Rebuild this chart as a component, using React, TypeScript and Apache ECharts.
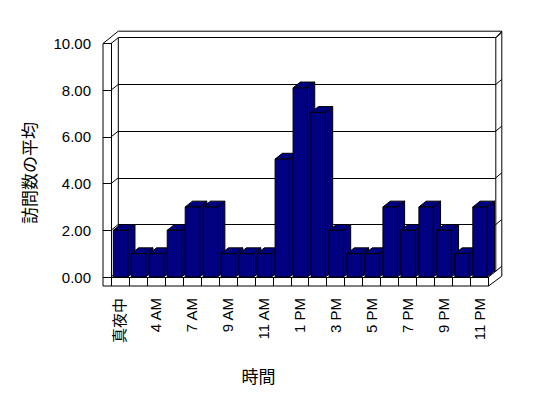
import React, { useEffect, useRef } from "react";
import * as echarts from "echarts";

const categories = [
  "真夜中", "2 AM", "4 AM", "6 AM", "7 AM", "8 AM", "9 AM", "10 AM", "11 AM", "正午",
  "1 PM", "2 PM", "3 PM", "4 PM", "5 PM", "6 PM", "7 PM", "8 PM", "9 PM", "10 PM", "11 PM",
];
const visits = [2, 1, 1, 2, 3, 3, 1, 1, 1, 5.05, 8.1, 7.05, 2, 1, 1, 3, 2, 3, 2, 1, 3];
const yTicks = [0, 2, 4, 6, 8, 10];
const yTitle = "訪問数の平均";
const xTitle = "時間";

const FONT = "'Liberation Sans', 'Noto Sans CJK JP', sans-serif";
const CJK = "'Noto Sans CJK JP', sans-serif";
const DX = 7.3;
const DY = 5.8;
const NAVY = "#000080";

export default function App() {
  const ref = useRef<HTMLDivElement>(null);
  useEffect(() => {
    if (!ref.current) return;
    const chart = echarts.init(ref.current, null, { renderer: "svg" });
    const lineStyle = { stroke: "#000", lineWidth: 1, fill: "none" };
    const option: any = {
      animation: false,
      backgroundColor: "#fff",
      grid: [
        { left: 111, right: 59.5, top: 43.5, bottom: 121 },
        { left: 111 + DX, right: 59.5 - DX, top: 43.5 - DY, bottom: 121 + DY },
      ],
      xAxis: [
        {
          type: "category",
          gridIndex: 0,
          data: categories,
          boundaryGap: true,
          axisLine: { show: true, lineStyle: { color: "#000", width: 1 } },
          axisTick: { show: true, length: 9, interval: 0, lineStyle: { color: "#000", width: 1 } },
          axisLabel: { interval: 1, rotate: 90, margin: 21, fontSize: 15, color: "#000", fontFamily: FONT },
          splitLine: { show: false },
        },
        { type: "category", gridIndex: 1, data: categories, show: false },
      ],
      yAxis: [
        {
          type: "value",
          gridIndex: 0,
          min: 0,
          max: 10,
          interval: 2,
          axisLine: { show: true, lineStyle: { color: "#000", width: 1 } },
          axisTick: { show: true, length: 8, lineStyle: { color: "#000", width: 1 } },
          axisLabel: {
            formatter: (v: number) => v.toFixed(2),
            margin: 20,
            fontSize: 15,
            color: "#000",
            fontFamily: FONT,
          },
          splitLine: { show: false },
        },
        {
          type: "value",
          gridIndex: 1,
          min: 0,
          max: 10,
          interval: 2,
          axisLine: { show: false },
          axisTick: { show: false },
          axisLabel: { show: false },
          splitLine: { show: true, lineStyle: { color: "#000", width: 1 } },
        },
      ],
      graphic: [
        {
          type: "text",
          x: 28.5,
          y: 173,
          rotation: Math.PI / 2,
          style: { text: yTitle, fontSize: 17, fontFamily: CJK, fill: "#000", align: "center", verticalAlign: "middle" },
        },
        {
          type: "text",
          x: 258.5,
          y: 375.5,
          style: { text: xTitle, fontSize: 17, fontFamily: CJK, fill: "#000", align: "center", verticalAlign: "middle" },
        },
      ],
      series: [
        {
          type: "custom",
          name: "frame",
          xAxisIndex: 0,
          yAxisIndex: 0,
          z: 1,
          silent: true,
          data: yTicks.map((v) => [0, v]),
          encode: { x: 0, y: 1 },
          renderItem: (params: any, api: any) => {
            const cs = params.coordSys;
            const x0 = cs.x;
            const x1 = cs.x + cs.width;
            const yT = cs.y;
            const yB = cs.y + cs.height;
            const bx0 = x0 + DX;
            const bx1 = x1 + DX;
            const byT = yT - DY;
            const byB = yB - DY;
            const T = 8;
            const F = 9;
            const R = 6;
            const yf = api.coord([0, api.value(1)])[1];
            const children: any[] = [
              { type: "line", shape: { x1: x0, y1: yf, x2: bx0, y2: yf - DY }, style: lineStyle },
              { type: "line", shape: { x1: bx1, y1: yf - DY, x2: bx1 + R, y2: yf - DY - 5 }, style: lineStyle },
            ];
            if (params.dataIndex === 0) {
              const oT = byT - 6.5;
              const lines = [
                [x0 - T, yT, x0 - T, yB + F],
                [x0 - T, yT, bx0, oT],
                [bx0, oT, bx1 + R, oT],
                [bx1, byT, bx1 + R, oT],
                [bx1 + R, oT, bx1 + R, byB + 5],
                [x1, yB + F, bx1 + R, byB + 5],
                [x0 - T, yB + F, x1, yB + F],
                [x1, yB, x1, yB + F],
                [x1, yB, bx1, byB],
                [bx0, byT, bx0, byB],
                [bx1, byT, bx1, byB],
              ];
              lines.forEach((l) =>
                children.push({ type: "line", shape: { x1: l[0], y1: l[1], x2: l[2], y2: l[3] }, style: lineStyle })
              );
            }
            return { type: "group", children };
          },
        },
        {
          type: "custom",
          name: "訪問数の平均",
          xAxisIndex: 0,
          yAxisIndex: 0,
          z: 3,
          data: visits.map((v, i) => [i, v]),
          encode: { x: 0, y: 1 },
          renderItem: (params: any, api: any) => {
            const i = api.value(0);
            const v = api.value(1);
            const top = api.coord([i, v]);
            const base = api.coord([i, 0]);
            const band = api.size([1, 0])[0];
            const w = band * 0.8;
            const cx = top[0] + 0.5;
            const l = cx - w / 2;
            const r = cx + w / 2;
            const st = { fill: NAVY, stroke: "#000", lineWidth: 1 };
            return {
              type: "group",
              children: [
                {
                  type: "polygon",
                  shape: { points: [[r, top[1]], [r + DX, top[1] - DY], [r + DX, base[1] - DY], [r, base[1]]] },
                  style: st,
                },
                {
                  type: "polygon",
                  shape: { points: [[l, top[1]], [r, top[1]], [r + DX, top[1] - DY], [l + DX, top[1] - DY]] },
                  style: st,
                },
                { type: "rect", shape: { x: l, y: top[1], width: w, height: base[1] - top[1] }, style: st },
              ],
            };
          },
        },
      ],
    };
    chart.setOption(option);
    return () => chart.dispose();
  }, []);
  return (
    <div
      ref={ref}
      style={{ position: "fixed", left: 0, top: 0, width: 548, height: 398, background: "#fff" }}
    />
  );
}
